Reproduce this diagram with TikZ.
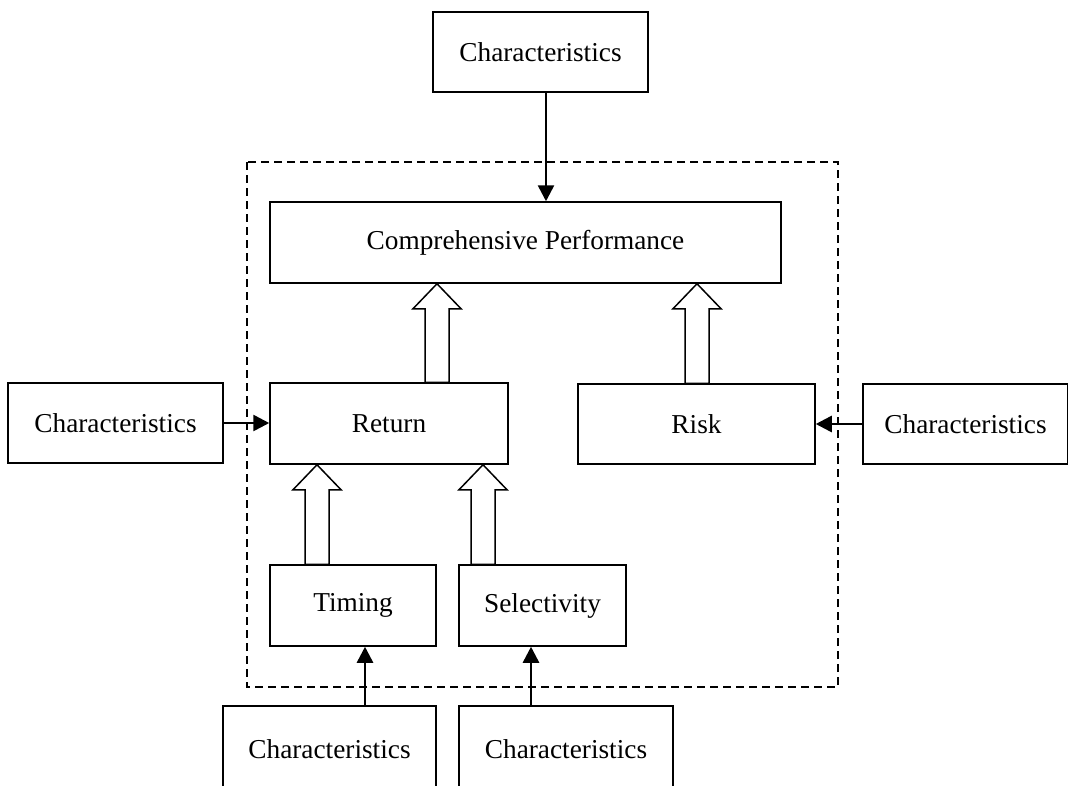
\documentclass[tikz,border=0pt]{standalone}
\usepackage{fontspec}
\setmainfont{Liberation Serif}
\usetikzlibrary{arrows.meta,calc}
\tikzset{
  box/.style={draw=black, line width=1.5pt, rectangle, inner sep=0pt, font=\fontsize{27.3}{32}\selectfont},
  conn/.style={draw=black, line width=2.6pt, -{Triangle[length=16pt,width=16pt]}},
  hollow/.style={draw=black, line width=1.5pt, fill=white, line join=miter},
  frame/.style={draw=black, line width=1.5pt, dash pattern=on 8pt off 5pt},
}
\newcommand{\hollowup}[3]{% x, from node (below), to node (above)
  \path[hollow] let \p1=(#2.north), \p2=(#3.south) in
    ({#1pt-12pt},\y1) -- ({#1pt-12pt},{\y2-25pt}) -- ({#1pt-24pt},{\y2-25pt})
    -- ({#1pt},\y2) -- ({#1pt+24pt},{\y2-25pt}) -- ({#1pt+12pt},{\y2-25pt})
    -- ({#1pt+12pt},\y1) -- cycle;}
\begin{document}
\begin{tikzpicture}[x=1pt,y=-1pt]
\useasboundingbox (0,0) rectangle (1068,785);
\clip (0,0) rectangle (1068,785);
\draw[frame] (247,162) rectangle (838,687);
% nodes
\node[box, minimum width=215pt, minimum height=80pt] (ctop) at (540.5,52) {Characteristics};
\node[box, minimum width=511pt, minimum height=81pt] (comp) at (525.5,242.5) {Comprehensive Performance};
\node[box, minimum width=238pt, minimum height=81pt] (ret) at (389,423.5) {Return};
\node[box, minimum width=237pt, minimum height=80pt] (risk) at (696.5,424) {Risk};
\node[box, minimum width=215pt, minimum height=80pt] (cleft) at (115.5,423) {Characteristics};
\node[box, minimum width=205pt, minimum height=80pt] (cright) at (965.5,424) {Characteristics};
\node[box, minimum width=166pt, minimum height=81pt] (tim) at (353,605.5) {Timing};
\node[box, minimum width=167pt, minimum height=81pt] (sel) at (542.5,605.5) {Selectivity};
\node[box, minimum width=213pt, minimum height=86pt] (cb1) at (329.5,749) {Characteristics};
\node[box, minimum width=214pt, minimum height=86pt] (cb2) at (566,749) {Characteristics};
% thin connectors
\draw[conn] (ctop.south -| 546,0) -- (comp.north -| 546,0);
\draw[conn] (cleft.east |- 0,423) -- (ret.west |- 0,423);
\draw[conn] (cright.west |- 0,424) -- (risk.east |- 0,424);
\draw[conn] (cb1.north -| 365,0) -- (tim.south -| 365,0);
\draw[conn] (cb2.north -| 531,0) -- (sel.south -| 531,0);
% hollow arrows
\hollowup{437}{ret}{comp}
\hollowup{697}{risk}{comp}
\hollowup{317}{tim}{ret}
\hollowup{483}{sel}{ret}
\end{tikzpicture}
\end{document}
